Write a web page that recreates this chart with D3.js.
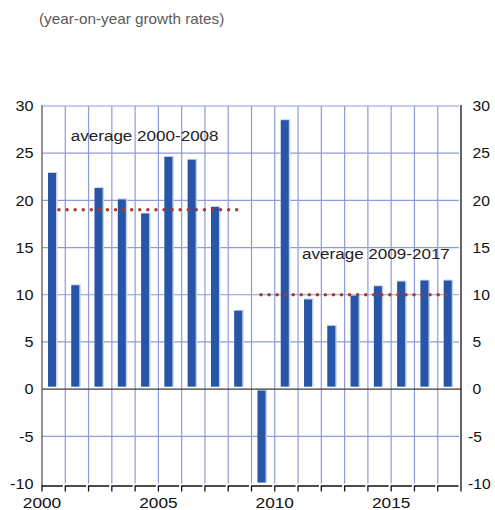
<!DOCTYPE html>
<html>
<head>
<meta charset="utf-8">
<script src="https://cdn.jsdelivr.net/npm/d3@7/dist/d3.min.js"></script>
<style>
  html, body { margin: 0; padding: 0; background: #fff; }
  svg { display: block; font-family: "Liberation Sans", Arial, Helvetica, sans-serif; }
</style>
</head>
<body>
<svg id="chart" width="495" height="510"></svg>
<script>
// Annual growth, per cent
const years = [2000, 2001, 2002, 2003, 2004, 2005, 2006, 2007, 2008,
               2009, 2010, 2011, 2012, 2013, 2014, 2015, 2016, 2017];
const growth = [22.9, 11.0, 21.3, 20.1, 18.6, 24.6, 24.3, 19.3, 8.3,
                -9.9, 28.5, 9.5, 6.7, 9.9, 10.9, 11.4, 11.5, 11.5];

// Period averages
const avgLabels = ["average 2000-2008", "average 2009-2017"];
const avgFrom = [2000, 2009];
const avgTo = [2008, 2017];
const avgValues = [19.0, 10.0];

const yTicks = [-10, -5, 0, 5, 10, 15, 20, 25, 30];
const yearLabels = [2000, 2005, 2010, 2015];
const subtitle = "(year-on-year growth rates)";

const svg = d3.select("#chart");
const plotLeft = 42, plotRight = 461, plotTop = 106, plotBottom = 483.5;

const x = d3.scaleBand().domain(years).range([plotLeft, plotRight]).padding(0);
const y = d3.scaleLinear().domain([-10, 30]).range([plotBottom, plotTop]);
const bw = x.bandwidth();

const gridColor = "#8f9bd8";

// text with a slight horizontal stretch
function label(g, txt, tx, ty, size, anchor, sx, color) {
  return g.append("text")
    .attr("transform", `translate(${tx},${ty}) scale(${sx},1)`)
    .attr("text-anchor", anchor)
    .attr("font-size", size)
    .attr("fill", color)
    .text(txt);
}

// subtitle
label(svg, subtitle, 39, 24, 15, "start", 1.02, "#5a5a5a");

// horizontal gridlines
svg.append("g").selectAll("line")
  .data(yTicks.filter(d => d !== 0 && d !== -10))
  .join("line")
  .attr("x1", plotLeft).attr("x2", plotRight - 2)
  .attr("y1", d => y(d)).attr("y2", d => y(d))
  .attr("stroke", gridColor).attr("stroke-width", 1.2);

// vertical gridlines at year boundaries
svg.append("g").selectAll("line")
  .data(years.slice(1))
  .join("line")
  .attr("x1", d => x(d)).attr("x2", d => x(d))
  .attr("y1", plotTop).attr("y2", plotBottom)
  .attr("stroke", gridColor).attr("stroke-width", 1.2);

// bars: pale edge behind, solid blue in front
const bars = svg.append("g");
const barX = d => x(d) + 6;
const barTop = (d, i) => growth[i] >= 0 ? y(growth[i]) : y(0) + 1.5;
const barBot = (d, i) => growth[i] >= 0 ? y(0) - 2.5 : y(growth[i]);

bars.selectAll("rect.edge")
  .data(years)
  .join("rect")
  .attr("class", "edge")
  .attr("x", barX)
  .attr("y", (d, i) => barTop(d, i) - 1)
  .attr("width", 9.5)
  .attr("height", (d, i) => barBot(d, i) - barTop(d, i) + 1)
  .attr("fill", "#c6d2ec");

bars.selectAll("rect.bar")
  .data(years)
  .join("rect")
  .attr("class", "bar")
  .attr("x", barX)
  .attr("y", barTop)
  .attr("width", 8)
  .attr("height", (d, i) => barBot(d, i) - barTop(d, i))
  .attr("fill", "#2756a6");

// zero line
svg.append("line")
  .attr("x1", plotLeft).attr("x2", plotRight)
  .attr("y1", y(0)).attr("y2", y(0))
  .attr("stroke", "#3a3a3a").attr("stroke-width", 1.3);

// left and right axis lines
svg.append("line")
  .attr("x1", plotLeft).attr("x2", plotLeft)
  .attr("y1", plotTop - 1).attr("y2", plotBottom + 3)
  .attr("stroke", "#6e6e6e").attr("stroke-width", 1.5);
svg.append("line")
  .attr("x1", plotRight).attr("x2", plotRight)
  .attr("y1", plotTop - 1).attr("y2", plotBottom + 3)
  .attr("stroke", "#111").attr("stroke-width", 1.3);

// bottom axis: one bracket per year
svg.append("g").selectAll("path")
  .data(years)
  .join("path")
  .attr("d", d => `M${x(d)},${plotBottom + 8}V${plotBottom + 2.5}H${x(d) + bw - 2.5}`)
  .attr("fill", "none")
  .attr("stroke", "#111").attr("stroke-width", 1.3);
svg.append("line")
  .attr("x1", plotRight).attr("x2", plotRight)
  .attr("y1", plotBottom + 2.5).attr("y2", plotBottom + 8)
  .attr("stroke", "#111").attr("stroke-width", 1.3);

// average dotted lines: dots spaced evenly so both ends carry a dot
const avgStart = [x(avgFrom[0]) + 17, x(avgFrom[1]) + 9.5];
const avgEnd = avgTo.map(t => x(t) + 8.5);
svg.append("g").selectAll("line")
  .data(avgValues)
  .join("line")
  .attr("x1", (d, i) => avgStart[i])
  .attr("x2", (d, i) => avgEnd[i])
  .attr("y1", d => y(d)).attr("y2", d => y(d))
  .attr("stroke", "#a8392f")
  .attr("stroke-width", 3.5)
  .attr("stroke-linecap", "round")
  .attr("stroke-dasharray", (d, i) => {
    const len = avgEnd[i] - avgStart[i];
    return `0 ${len / Math.round(len / 8)}`;
  });

// average labels
const avgG = svg.append("g");
label(avgG, avgLabels[0], x(2001) + 5.5, y(26.3), 15.5, "start", 1.1, "#222");
label(avgG, avgLabels[1], x(2011) + 4, y(13.8), 15.5, "start", 1.1, "#222");

// y tick labels on both sides
const tickG = svg.append("g");
yTicks.forEach(t => {
  label(tickG, t, 33.5, y(t) + 5.2, 14.5, "end", 1.12, "#111");
  label(tickG, t, t < 0 ? 468 : 472.5, y(t) + 5.2, 14.5, "start", 1.08, "#111");
});

// year labels
const yearG = svg.append("g");
yearLabels.forEach(yr => {
  label(yearG, yr, x(yr), 507.5, 15, "middle", 1.15, "#111");
});
</script>
</body>
</html>
